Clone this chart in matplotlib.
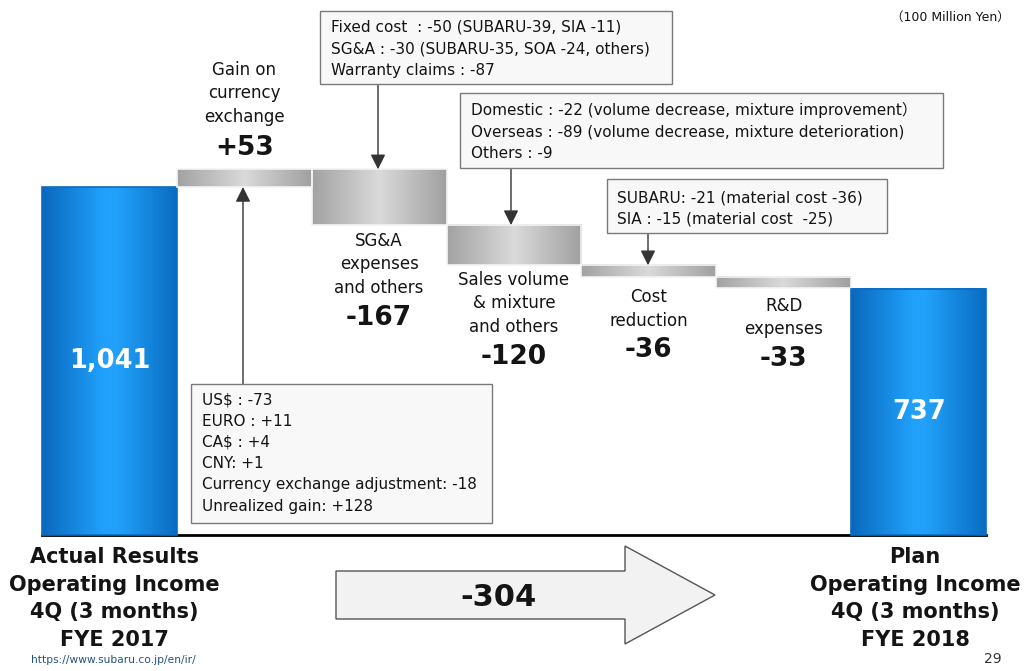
import numpy as np
import matplotlib
matplotlib.use("Agg")
import matplotlib.pyplot as plt
from matplotlib.colors import LinearSegmentedColormap
from matplotlib.patches import Rectangle, Polygon

# waterfall data (100 million yen)
categories = ["FYE 2017", "Gain on currency exchange", "SG&A expenses and others",
              "Sales volume & mixture and others", "Cost reduction", "R&D expenses", "FYE 2018"]
start_value = 1041
deltas = [53, -167, -120, -36, -33]
end_value = 737
total_change = -304

step_labels = ["Gain on\ncurrency\nexchange", "SG&A\nexpenses\nand others",
               "Sales volume\n& mixture\nand others", "Cost\nreduction", "R&D\nexpenses"]
delta_texts = ["+53", "-167", "-120", "-36", "-33"]

box_fx = ["US$ : -73", "EURO : +11", "CA$ : +4", "CNY: +1",
          "Currency exchange adjustment: -18", "Unrealized gain: +128"]
box_sga = ["Fixed cost  : -50 (SUBARU-39, SIA -11)",
           "SG&A : -30 (SUBARU-35, SOA -24, others)",
           "Warranty claims : -87"]
box_sales = ["Domestic : -22 (volume decrease, mixture improvement\uff09",
             "Overseas : -89 (volume decrease, mixture deterioration)",
             "Others : -9"]
box_cost = ["SUBARU: -21 (material cost -36)", "SIA : -15 (material cost  -25)"]

W, H = 1025, 671
fig = plt.figure(figsize=(W / 100, H / 100), dpi=100)
ax = fig.add_axes([0, 0, 1, 1])
ax.axis("off")

slot = 134.86
scale = 348 / 1041.0
base = 535


def P(x, y):
    # pixel (from top-left) -> figure fraction
    return (x / W, 1 - y / H)


blue = LinearSegmentedColormap.from_list(
    "b", [(0, "#0a68bd"), (0.45, "#20a0fa"), (0.55, "#22a2fb"), (1, "#0a6cc2")])
gray = LinearSegmentedColormap.from_list(
    "g", [(0, "#a2a2a2"), (0.5, "#dadada"), (1, "#a0a0a0")])
grad = np.linspace(0, 1, 256).reshape(1, -1)


def gbar(i, lo, hi, cmap, edge):
    ax.imshow(grad, cmap=cmap, extent=[i - 0.5, i + 0.5, lo, hi],
              aspect="auto", zorder=2, interpolation="bilinear")
    ax.add_patch(Rectangle((i - 0.5, lo), 1, hi - lo, fill=False,
                           edgecolor=edge, lw=1.2, zorder=3))


ax.plot([-0.5, 6.5], [0, 0], color="black", lw=2, zorder=1)

gbar(0, 0, start_value, blue, "#0a6cc2")
level = start_value
tops = []
for i, d in enumerate(deltas):
    lo, hi = sorted([level, level + d])
    gbar(i + 1, lo, hi, gray, "#f4f4f4")
    tops.append((lo, hi))
    level += d
gbar(6, 0, end_value, blue, "#0a6cc2")
ax.set_xlim(-0.5 - 42 / slot, -0.5 + (W - 42) / slot)
ax.set_ylim(-(H - base) / scale, base / scale)

ax.text(0, start_value * 0.5, "1,041", color="white", fontsize=18.5,
        fontweight="bold", ha="center", va="center", zorder=4)
ax.text(6, end_value * 0.5, "737", color="white", fontsize=18.5,
        fontweight="bold", ha="center", va="center", zorder=4)

# step labels
tc = "#141414"
lab_y = [70, 241, 280, 297, 306]
num_y = [148, 318, 357, 350, 359]
for i in range(5):
    lines = step_labels[i].split("\n")
    for k, ln in enumerate(lines):
        ax.text(*P(slot * (i + 1) + 42 + slot / 2, lab_y[i] + k * 23.5), ln,
                transform=fig.transFigure, ha="center", va="center",
                fontsize=12, color=tc)
    ax.text(*P(slot * (i + 1) + 42 + slot / 2, num_y[i]), delta_texts[i],
            transform=fig.transFigure, ha="center", va="center",
            fontsize=19, fontweight="bold", color=tc)


def box(x0, y0, x1, y1, lines, ly, lx, step):
    fx0, fy1 = P(x0, y1)
    fx1, fy0 = P(x1, y0)
    fig.patches.append(Rectangle((fx0, fy1), fx1 - fx0, fy0 - fy1,
                                 transform=fig.transFigure, facecolor="#f8f8f8",
                                 edgecolor="#7a7a7a", lw=1.0, zorder=5))
    for k, ln in enumerate(lines):
        fig.text(*P(lx, ly + k * step), ln, ha="left", va="center",
                 fontsize=11, color=tc, zorder=6,
                 family=["DejaVu Sans", "Noto Sans CJK JP"])


box(320, 11, 672, 84, box_sga, 27, 331, 21.5)
box(460, 93, 943, 168, box_sales, 110, 471, 22)
box(607, 179, 887, 233, box_cost, 198, 617, 21)
box(191, 384, 492, 523, box_fx, 400, 202, 21.2)

arrow_kw = dict(arrowstyle="-|>,head_length=0.9,head_width=0.45",
                color="#333333", lw=1.0, shrinkA=0, shrinkB=0)
# currency box -> gain bar bottom
ax.annotate("", xy=((243 - 42) / slot - 0.5, tops[0][0]),
            xytext=P(243, 384), textcoords="figure fraction", arrowprops=arrow_kw)
ax.annotate("", xy=((378 - 42) / slot - 0.5, tops[1][1]),
            xytext=P(378, 84), textcoords="figure fraction", arrowprops=arrow_kw)
ax.annotate("", xy=((511 - 42) / slot - 0.5, tops[2][1]),
            xytext=P(511, 168), textcoords="figure fraction", arrowprops=arrow_kw)
ax.annotate("", xy=((648 - 42) / slot - 0.5, tops[3][1]),
            xytext=P(648, 233), textcoords="figure fraction", arrowprops=arrow_kw)

# big total arrow
pts = [(336, 571), (625, 571), (625, 546), (715, 595), (625, 644), (625, 619), (336, 619)]
fig.patches.append(Polygon([P(*p) for p in pts], closed=True, transform=fig.transFigure,
                           facecolor="#f2f2f2", edgecolor="#555555", lw=1.0))
fig.text(*P(499, 598), str(total_change), ha="center", va="center",
         fontsize=22, fontweight="bold", color=tc)

left_lab = ["Actual Results", "Operating Income", "4Q (3 months)", "FYE 2017"]
right_lab = ["Plan", "Operating Income", "4Q (3 months)", "FYE 2018"]
for k, (a, b) in enumerate(zip(left_lab, right_lab)):
    yy = [557, 585, 612, 640][k]
    fig.text(*P(114, yy), a, ha="center", va="center", fontsize=15,
             fontweight="bold", color=tc)
    fig.text(*P(915, yy), b, ha="center", va="center", fontsize=15,
             fontweight="bold", color=tc)

fig.text(*P(31, 660), "https://www.subaru.co.jp/en/ir/", ha="left", va="center",
         fontsize=7.7, color="#24527f")
fig.text(*P(993, 659), "29", ha="center", va="center", fontsize=10, color="#333333")
fig.text(*P(950, 17), "\uff08100 Million Yen\uff09", ha="center", va="center",
         fontsize=9, color=tc, family=["DejaVu Sans", "Noto Sans CJK JP"])

fig.savefig("out.png", dpi=100, facecolor="white")
